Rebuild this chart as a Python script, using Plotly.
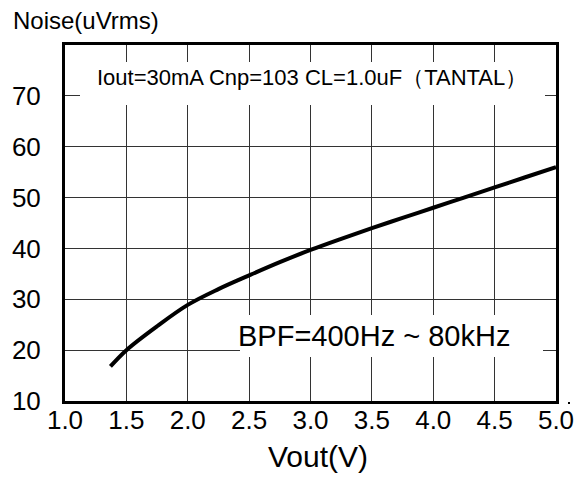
import plotly.graph_objects as go

vout = [1.37, 1.5, 1.75, 2.0, 2.25, 2.5, 2.75, 3.0, 3.25, 3.5, 3.75, 4.0, 4.25, 4.5, 4.75, 5.0]
noise = [16.8, 20.0, 24.7, 28.9, 32.0, 34.7, 37.3, 39.7, 41.9, 44.0, 46.0, 48.0, 50.0, 52.0, 54.0, 56.0]

x_ticks = [1.0, 1.5, 2.0, 2.5, 3.0, 3.5, 4.0, 4.5, 5.0]
x_tick_labels = ["1.0", "1.5", "2.0", "2.5", "3.0", "3.5", "4.0", "4.5", "5.0"]
y_ticks = [10, 20, 30, 40, 50, 60, 70]
y_tick_labels = ["10", "20", "30", "40", "50", "60", "70"]

FONT = "Liberation Sans, Arial, sans-serif"
L, R, T, B = 65, 556, 45, 401
PW, PH = R - L, B - T


def px(xp):
    return (xp - L) / PW


def py(yp):
    return (B - yp) / PH


fig = go.Figure()
fig.add_trace(go.Scatter(x=vout, y=noise, mode="lines", line=dict(color="black", width=4, shape="spline"),
                         showlegend=False, hoverinfo="skip"))

fig.update_layout(
    width=586, height=477,
    margin=dict(l=L, r=586 - R, t=T, b=477 - B),
    paper_bgcolor="white", plot_bgcolor="white",
    font=dict(family=FONT, color="black"),
    xaxis=dict(range=[1.0, 5.0], tickvals=x_ticks, ticktext=x_tick_labels,
               showgrid=True, gridcolor="#333", gridwidth=1, zeroline=False,
               showline=True, linecolor="black", linewidth=3, mirror=True,
               ticks="", ticklabelstandoff=-6,
               tickfont=dict(size=26, family=FONT)),
    yaxis=dict(range=[10, 80], tickvals=y_ticks, ticktext=y_tick_labels,
               showgrid=True, gridcolor="#333", gridwidth=1, zeroline=False,
               showline=True, linecolor="black", linewidth=3, mirror=True,
               ticks="outside", ticklen=16, tickcolor="white",
               tickfont=dict(size=26, family=FONT)),
)

# white boxes hiding grid behind text
fig.add_shape(type="rect", xref="paper", yref="paper",
              x0=px(80), x1=px(545), y0=py(105), y1=py(62),
              fillcolor="white", line=dict(width=0), layer="above")
fig.add_shape(type="rect", xref="paper", yref="paper",
              x0=px(240), x1=px(543), y0=py(357), y1=py(315),
              fillcolor="white", line=dict(width=0), layer="above")
# small stray dot right of the plot frame
fig.add_shape(type="rect", xref="paper", yref="paper",
              x0=px(568), x1=px(570), y0=py(404), y1=py(402),
              fillcolor="black", line=dict(width=0), layer="above")

fig.add_annotation(xref="paper", yref="paper", x=px(312), y=py(78),
                   text="Iout=30mA Cnp=103 CL=1.0uF（TANTAL）", showarrow=False,
                   font=dict(size=22, family=FONT), xanchor="center", yanchor="middle")
fig.add_annotation(xref="paper", yref="paper", x=px(236), y=py(336),
                   text="BPF=400Hz ~ 80kHz", showarrow=False,
                   font=dict(size=29, family=FONT), xanchor="left", yanchor="middle")
fig.add_annotation(xref="paper", yref="paper", x=px(11), y=py(20),
                   text="Noise(uVrms)", showarrow=False,
                   font=dict(size=24, family=FONT), xanchor="left", yanchor="middle")
fig.add_annotation(xref="paper", yref="paper", x=px(318), y=py(456),
                   text="Vout(V)", showarrow=False,
                   font=dict(size=30, family=FONT), xanchor="center", yanchor="middle")

fig.write_html("out.html")
